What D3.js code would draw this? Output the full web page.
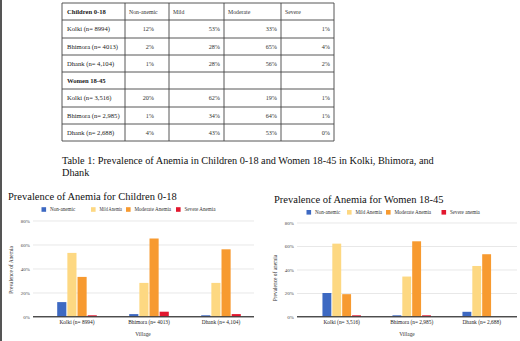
<!DOCTYPE html>
<html>
<head>
<meta charset="utf-8">
<script src="https://cdn.jsdelivr.net/npm/d3@7"></script>
<style>
  body { margin: 0; background: #fff; }
  svg { display: block; font-family: "Liberation Serif", "Times New Roman", serif; }
</style>
</head>
<body>
<div id="page"></div>
<script>
// ---- data ----
const series = ["Non-anemic", "Mild", "Moderate", "Severe"];
const childVillages = ["Kolki (n= 8994)", "Bhimora (n= 4013)", "Dhank (n= 4,104)"];
const womenVillages = ["Kolki (n= 3,516)", "Bhimora (n= 2,985)", "Dhank (n= 2,688)"];
const childValues = [[12, 53, 33, 1], [2, 28, 65, 4], [1, 28, 56, 2]];
const womenValues = [[20, 62, 19, 1], [1, 34, 64, 1], [4, 43, 53, 0]];
const childLegend = ["Non-anemic", "Mild Anemia", "Moderate Anemia", "Severe Anemia"];
const womenLegend = ["Non-anemic", "Mild Anemia", "Moderate Anemia", "Severe anemia"];
const yTicks = [0, 20, 40, 60, 80];

const colors = ["#3d69c2", "#fdd882", "#f79a30", "#e2172e"];

const width = 520, height = 341;
const svg = d3.select("#page").append("svg")
    .attr("width", width)
    .attr("height", height);

// left page edge
svg.append("rect").attr("x", 0).attr("y", 0).attr("width", 2).attr("height", height).attr("fill", "#555");

// ---- table ----
const colEdges = [62, 125, 169, 224, 281, 334];
const rowEdges = [3, 20, 38, 55, 72, 89, 107, 124, 141];
const tableRows = [
    { label: "Children 0-18", header: true, cells: ["Non-anemic", "Mild", "Moderate", "Severe"] },
    ...childVillages.map((v, i) => ({ label: v, cells: childValues[i].map(d => d + "%") })),
    { label: "Women 18-45", header: true, cells: ["", "", "", ""] },
    ...womenVillages.map((v, i) => ({ label: v, cells: womenValues[i].map(d => d + "%") }))
];
const padRight = [15, 4, 4, 4];

const table = svg.append("g").attr("class", "table");
tableRows.forEach((r, i) => {
    const y0 = rowEdges[i], y1 = rowEdges[i + 1];
    const ty = (y0 + y1) / 2 + 2.2;
    table.append("text")
        .attr("x", colEdges[0] + 5)
        .attr("y", ty)
        .style("font-size", "6.6px")
        .style("font-weight", r.header ? "bold" : "normal")
        .attr("fill", "#222")
        .text(r.label);
    r.cells.forEach((c, j) => {
        const isHead = i === 0;
        table.append("text")
            .attr("x", isHead ? colEdges[j + 1] + 4 : colEdges[j + 2] - padRight[j])
            .attr("y", ty)
            .attr("text-anchor", isHead ? "start" : "end")
            .style("font-size", isHead ? "5.8px" : "6.2px")
            .attr("fill", "#333")
            .text(c);
    });
});
rowEdges.forEach(y => table.append("line")
    .attr("x1", colEdges[0]).attr("x2", colEdges[colEdges.length - 1])
    .attr("y1", y).attr("y2", y)
    .attr("stroke", "#444").attr("stroke-width", 0.9));
colEdges.forEach(x => table.append("line")
    .attr("x1", x).attr("x2", x)
    .attr("y1", rowEdges[0]).attr("y2", rowEdges[rowEdges.length - 1])
    .attr("stroke", "#444").attr("stroke-width", 0.9));

const caption = svg.append("text")
    .attr("x", 62).attr("y", 164)
    .style("font-size", "10.25px")
    .attr("fill", "#111");
caption.append("tspan").attr("x", 62).text("Table 1: Prevalence of Anemia in Children 0-18 and Women 18-45 in Kolki, Bhimora, and");
caption.append("tspan").attr("x", 62).attr("dy", 11.5).text("Dhank");

// ---- charts ----
function drawChart(cfg) {
    const g = svg.append("g");

    const x = d3.scaleBand().domain(cfg.villages).range(cfg.xRange)
        .paddingInner(0.45).paddingOuter(0.225);
    const xi = d3.scaleBand().domain(series).range([0, x.bandwidth()]).paddingInner(0.1);
    const y = d3.scaleLinear().domain([0, 80]).range(cfg.yRange);

    g.append("text")
        .attr("x", cfg.titleX).attr("y", cfg.titleY)
        .style("font-size", "10.5px")
        .attr("fill", "#111")
        .text(cfg.title);

    // legend
    cfg.legendX.forEach((lx, i) => {
        g.append("rect")
            .attr("x", lx).attr("y", cfg.legendY - 2.3)
            .attr("width", 4.6).attr("height", 4.6)
            .attr("fill", colors[i]);
        const t = g.append("text")
            .attr("x", lx + 8.5).attr("y", cfg.legendY + 1.8)
            .style("font-size", "5.1px")
            .attr("fill", "#333")
            .text(cfg.legend[i]);
        // keep a small gap before the next legend swatch
        const next = cfg.legendX[i + 1];
        if (next !== undefined) {
            const room = next - (lx + 8.5) - 4;
            if (t.node().getComputedTextLength() > room) {
                t.attr("textLength", room).attr("lengthAdjust", "spacingAndGlyphs");
            }
        }
    });

    // grid
    const grid = d3.axisLeft(y).tickValues(yTicks)
        .tickSize(-(cfg.gridX[1] - cfg.gridX[0]))
        .tickFormat(d => d + "%")
        .tickPadding(3);
    const ga = g.append("g")
        .attr("transform", `translate(${cfg.gridX[0]},0)`)
        .call(grid);
    ga.select(".domain").remove();
    ga.selectAll(".tick line").attr("stroke", d => d === 0 ? "#333" : "#dedede").attr("stroke-width", d => d === 0 ? 0.8 : 0.7);
    ga.selectAll(".tick text")
        .attr("fill", "#444")
        .style("font-family", "Liberation Serif, serif")
        .style("font-size", "5px");

    // bars
    const groups = g.selectAll("g.grp")
        .data(cfg.values)
        .enter().append("g")
        .attr("transform", (d, i) => `translate(${x(cfg.villages[i])},0)`);
    groups.selectAll("rect")
        .data(d => d.map((v, k) => ({ v, k })))
        .enter().append("rect")
        .attr("x", d => xi(series[d.k]))
        .attr("width", xi.bandwidth())
        .attr("y", d => y(d.v))
        .attr("height", d => y(0) - y(d.v))
        .attr("fill", d => colors[d.k]);

    // redraw baseline on top
    g.append("line")
        .attr("x1", cfg.gridX[0]).attr("x2", cfg.gridX[1])
        .attr("y1", y(0)).attr("y2", y(0))
        .attr("stroke", "#333").attr("stroke-width", 0.8);

    // x labels
    const xa = g.append("g")
        .attr("transform", `translate(0,${y(0)})`)
        .call(d3.axisBottom(x).tickSize(0).tickPadding(4));
    xa.select(".domain").remove();
    xa.selectAll(".tick text")
        .attr("fill", "#222")
        .style("font-family", "Liberation Serif, serif")
        .style("font-size", "5.4px");

    g.append("text")
        .attr("x", cfg.xTitleX).attr("y", 336)
        .attr("text-anchor", "middle")
        .style("font-size", "5.4px")
        .attr("fill", "#333")
        .text("Village");

    g.append("text")
        .attr("transform", `translate(${cfg.yTitleX},${cfg.yTitleY}) rotate(-90)`)
        .attr("text-anchor", "middle")
        .style("font-size", "5.4px")
        .attr("fill", "#333")
        .text(cfg.yTitle);
}

drawChart({
    title: "Prevalence of Anemia for Children 0-18",
    titleX: 8, titleY: 200,
    legend: childLegend,
    legendX: [41.5, 91, 126, 176],
    legendY: 209.5,
    villages: childVillages,
    values: childValues,
    xRange: [41, 257],
    yRange: [316.5, 220.5],
    gridX: [33, 254],
    xTitleX: 143,
    yTitle: "Prevalence of Anemia",
    yTitleX: 12.5, yTitleY: 270
});

drawChart({
    title: "Prevalence of Anemia for Women 18-45",
    titleX: 274, titleY: 203,
    legend: womenLegend,
    legendX: [306.5, 347, 386, 441.5],
    legendY: 212.3,
    villages: womenVillages,
    values: womenValues,
    xRange: [306.7, 516.7],
    yRange: [316.5, 222.5],
    gridX: [297, 517],
    xTitleX: 407,
    yTitle: "Prevalence of anemia",
    yTitleX: 276.5, yTitleY: 278
});
</script>
</body>
</html>
